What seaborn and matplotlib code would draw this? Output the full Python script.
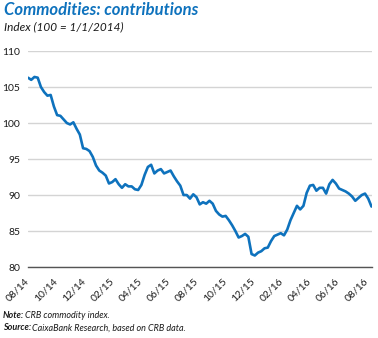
import numpy as np
import pandas as pd
import matplotlib
matplotlib.use("Agg")
import matplotlib.pyplot as plt
import seaborn as sns

# Weekly CRB index (100 = 1/1/2014)
start_date = "2014-08-01"
values = [
    106.3, 106.0, 106.4, 106.3, 105.0, 104.3, 103.8, 103.9, 102.3, 101.1,
    101.0, 100.5, 100.0, 99.8, 100.1, 99.2, 98.4, 96.5, 96.4, 96.1,
    95.3, 94.1, 93.4, 93.1, 92.7, 91.6, 91.8, 92.2, 91.5, 91.0,
    91.5, 91.2, 91.2, 90.8, 90.7, 91.4, 92.8, 93.9, 94.2, 93.0,
    93.4, 93.6, 93.0, 93.2, 93.4, 92.6, 91.9, 91.3, 90.0, 90.0,
    89.5, 90.1, 89.7, 88.7, 89.0, 88.8, 89.2, 88.8, 87.8, 87.3,
    87.0, 87.1, 86.5, 85.8, 85.0, 84.1, 84.3, 84.6, 84.2, 81.8,
    81.6, 82.0, 82.2, 82.6, 82.7, 83.6, 84.3, 84.5, 84.7, 84.4,
    85.2, 86.5, 87.5, 88.5, 88.0, 88.5, 90.3, 91.3, 91.4, 90.6,
    91.0, 91.0, 90.2, 91.5, 92.1, 91.6, 90.9, 90.7, 90.5, 90.2,
    89.8, 89.2, 89.6, 90.0, 90.2, 89.5, 88.4,
]
dates = pd.date_range(start_date, periods=len(values), freq="7D")

tick_dates = pd.date_range("2014-08-01", "2016-08-01", freq="2MS")
tick_labels = [d.strftime("%m/%y") for d in tick_dates]
y_ticks = [80, 85, 90, 95, 100, 105, 110]

title = "Commodities: contributions"
subtitle = "Index (100 = 1/1/2014)"
note_head, note_body = "Note:", "CRB commodity index."
source_head, source_body = "Source:", "CaixaBank Research, based on CRB data."

BLUE = "#0e72bd"
TXT = "#1a1a1a"

sns.set_style("white")
plt.rcParams["font.family"] = ["Lato", "DejaVu Sans"]

df = pd.DataFrame({"date": dates, "value": values})

fig = plt.figure(figsize=(3.78, 3.38), dpi=100)
ax = fig.add_axes([0.074, 0.210, 0.910, 0.639])

sns.lineplot(data=df, x="date", y="value", ax=ax, color=BLUE, linewidth=1.9)

ax.set_ylim(80, 110)
ax.set_yticks(y_ticks)
ax.set_yticklabels([str(v) for v in y_ticks], fontsize=7.5, color=TXT)
ax.set_xlim(pd.Timestamp("2014-08-01"), dates[-1] + pd.Timedelta(days=1))
ax.set_xticks(tick_dates)
ax.set_xticklabels(tick_labels, rotation=45, ha="right", va="center",
                   rotation_mode="anchor", fontsize=7.5, color=TXT)
ax.tick_params(axis="x", direction="in", length=3, width=0.8, color="#555555", pad=9)
ax.tick_params(axis="y", length=0, pad=5.5)

ax.grid(axis="y", color="#d4d4d4", linewidth=1.0)
ax.grid(axis="x", visible=False)
for s in ["top", "right", "left"]:
    ax.spines[s].set_visible(False)
ax.spines["bottom"].set_color("#555555")
ax.spines["bottom"].set_linewidth(1.0)
ax.set_xlabel("")
ax.set_ylabel("")

fig.text(0.011, 1 - 2 / 338, title, fontsize=12, fontweight="bold", style="italic",
         color=BLUE, va="top", ha="left")
fig.text(0.011, 1 - 21 / 338, subtitle, fontsize=8.5, style="italic",
         color=TXT, va="top", ha="left")


def head_body(y, head, body):
    t = fig.text(0.008, y, head, fontsize=6.5, fontweight="bold", style="italic",
                 va="center", ha="left", color=TXT)
    fig.canvas.draw()
    bb = t.get_window_extent()
    fig.text(bb.x1 / fig.bbox.width + 0.002, y, body, fontsize=6.5, style="italic",
             va="center", ha="left", color=TXT)


head_body(1 - 316 / 338, note_head, note_body)
head_body(1 - 328 / 338, source_head, source_body)

fig.savefig("out.png", dpi=100)
